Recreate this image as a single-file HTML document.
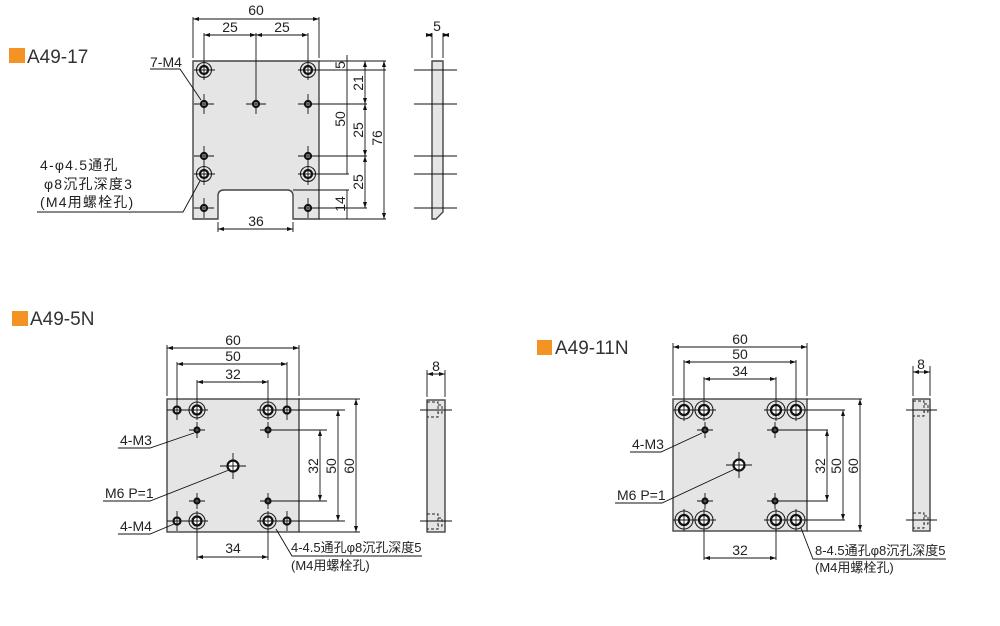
<!DOCTYPE html>
<html><head><meta charset="utf-8"><style>
html,body{margin:0;padding:0;background:#fff;}
svg{display:block;}
text{font-family:"Liberation Sans","Noto Sans CJK SC",sans-serif;fill:#222;}
.t{font-size:14px;}
.j{font-size:13px;font-family:"Liberation Sans","Noto Sans CJK SC",sans-serif;}
.jw{font-size:14px;letter-spacing:1.2px;font-family:"Liberation Sans","Noto Sans CJK SC",sans-serif;}
.ttl{font-size:19px;fill:#333;}
.plate{fill:#e5e5e5;stroke:#444;stroke-width:1.4;}
.l{stroke:#111;stroke-width:0.9;fill:none;}
.d{stroke:#111;stroke-width:0.9;fill:none;marker-start:url(#a);marker-end:url(#a);}
.c{stroke:#111;stroke-width:0.9;}
.h{fill:#fff;stroke:#111;stroke-width:2.2;}
.o{fill:none;stroke:#222;stroke-width:1.1;}
.ds{stroke:#222;stroke-width:0.9;fill:none;stroke-dasharray:3,2;}
</style></head><body>
<svg width="1000" height="626" viewBox="0 0 1000 626" xmlns="http://www.w3.org/2000/svg">
<defs>
<marker id="a" viewBox="0 0 6 4" refX="6" refY="2" markerWidth="6" markerHeight="4" orient="auto-start-reverse" markerUnits="userSpaceOnUse"><path d="M0,0 L6,2 L0,4z" fill="#111"/></marker>
</defs>

<!-- ===== A49-17 ===== -->
<rect x="9" y="48" width="16" height="15" fill="#f39324"/>
<text x="27" y="63" class="ttl">A49-17</text>
<path class="plate" d="M193,61 H319 V219 H293 V196 Q293,190 287,190 H224 Q218,190 218,196 V219 H193 Z"/>
<g>
<circle cx="204" cy="70" r="7.5" class="o"/><circle cx="204" cy="70" r="4" class="h"/>
<circle cx="308" cy="70" r="7.5" class="o"/><circle cx="308" cy="70" r="4" class="h"/>
<circle cx="204" cy="174" r="7.5" class="o"/><circle cx="204" cy="174" r="4" class="h"/>
<circle cx="308" cy="174" r="7.5" class="o"/><circle cx="308" cy="174" r="4" class="h"/>
<circle cx="204" cy="104" r="3" class="h"/><circle cx="256" cy="104" r="3" class="h"/><circle cx="308" cy="104" r="3" class="h"/>
<circle cx="204" cy="156" r="3" class="h"/><circle cx="308" cy="156" r="3" class="h"/>
<circle cx="204" cy="208" r="3" class="h"/><circle cx="308" cy="208" r="3" class="h"/>
</g>
<path class="c" d="M194,70H215 M298,70H386 M204,60V80 M308,60V80
M194,104H214 M246,104H266 M298,104H367 M204,94V114 M256,33V114 M308,94V114
M194,156H214 M298,156H367 M204,146V166 M308,146V166
M194,174H215 M298,174H349 M204,163V185 M308,163V185
M194,208H214 M298,208H367 M204,198V218 M308,198V218
M319,61H386 M319,219H386 M293,190H349"/>
<path class="l" d="M193,58V17 M319,58V17 M204,60V33 M308,60V33 M218,222V232 M293,222V232"/>
<path class="d" d="M193,19H319"/>
<path class="d" d="M204,35H256"/><path class="d" d="M256,35H308"/>
<path class="d" d="M218,229H293"/>
<text x="256" y="15" class="t" text-anchor="middle">60</text>
<text x="230" y="32" class="t" text-anchor="middle">25</text>
<text x="282" y="32" class="t" text-anchor="middle">25</text>
<text x="256" y="226" class="t" text-anchor="middle">36</text>
<path class="l" d="M347,55V174 M347,190V219"/>
<path class="d" d="M365,61V104"/><path class="d" d="M365,104V156"/><path class="d" d="M365,156V208"/>
<path class="d" d="M384,61V219"/>
<text transform="translate(345,65) rotate(-90)" class="t" text-anchor="middle">5</text>
<text transform="translate(345,119) rotate(-90)" class="t" text-anchor="middle">50</text>
<text transform="translate(345,204) rotate(-90)" class="t" text-anchor="middle">14</text>
<text transform="translate(363,83) rotate(-90)" class="t" text-anchor="middle">21</text>
<text transform="translate(363,130) rotate(-90)" class="t" text-anchor="middle">25</text>
<text transform="translate(363,182) rotate(-90)" class="t" text-anchor="middle">25</text>
<text transform="translate(382,138) rotate(-90)" class="t" text-anchor="middle">76</text>
<path class="plate" d="M432,61H443V212L436,219H432Z"/>
<path class="c" d="M414,70H457 M414,104H457 M414,156H457 M414,174H457 M414,208H457"/>
<path class="l" d="M432,58V33 M443,58V33"/>
<path class="d" d="M426,35H432"/><path class="d" d="M449,35H443"/>
<text x="437" y="31" class="t" text-anchor="middle">5</text>
<text x="150" y="67" class="t">7-M4</text>
<path class="l" d="M150,69H180L201,100"/>
<text x="40" y="170" class="jw">4-φ4.5通孔</text>
<text x="44" y="189" class="jw">φ8沉孔深度3</text>
<text x="40" y="207" class="jw">(M4用螺栓孔)</text>
<path class="l" d="M37,212H183L200,181"/>

<!-- ===== A49-5N ===== -->
<rect x="12" y="311" width="16" height="15" fill="#f39324"/>
<text x="30" y="325" class="ttl">A49-5N</text>
<rect x="167" y="399" width="132" height="133" class="plate"/>
<circle cx="197" cy="410" r="8" class="o"/><circle cx="197" cy="410" r="4.5" class="h"/>
<circle cx="268" cy="410" r="8" class="o"/><circle cx="268" cy="410" r="4.5" class="h"/>
<circle cx="197" cy="521" r="8" class="o"/><circle cx="197" cy="521" r="4.5" class="h"/>
<circle cx="268" cy="521" r="8" class="o"/><circle cx="268" cy="521" r="4.5" class="h"/>
<circle cx="177" cy="410" r="3.5" class="h"/><circle cx="287" cy="410" r="3.5" class="h"/>
<circle cx="177" cy="521" r="3.5" class="h"/><circle cx="287" cy="521" r="3.5" class="h"/>
<circle cx="197" cy="430" r="2.5" class="h"/><circle cx="268" cy="430" r="2.5" class="h"/>
<circle cx="197" cy="501" r="2.5" class="h"/><circle cx="268" cy="501" r="2.5" class="h"/>
<circle cx="233" cy="466" r="5.5" class="h"/>
<path class="c" d="M167,410H208 M257,410H345 M167,521H208 M257,521H345
M197,380V420 M268,380V420 M197,511V560 M268,511V560 M177,362V420 M287,362V420 M177,511V531 M287,511V531
M189,430H205 M260,430H327 M189,501H205 M260,501H327 M197,422V438 M268,422V438 M197,493V509 M268,493V509
M220,466H246 M233,453V479 M299,399H360 M299,532H360"/>
<path class="l" d="M167,396V345 M299,396V345"/>
<path class="d" d="M167,348H299"/><path class="d" d="M177,364H287"/><path class="d" d="M197,382H268"/>
<path class="d" d="M197,557H268"/>
<text x="233" y="345" class="t" text-anchor="middle">60</text>
<text x="233" y="361" class="t" text-anchor="middle">50</text>
<text x="233" y="379" class="t" text-anchor="middle">32</text>
<text x="233" y="553" class="t" text-anchor="middle">34</text>
<path class="d" d="M320,430V501"/><path class="d" d="M338,410V521"/><path class="d" d="M356,399V532"/>
<text transform="translate(318,466) rotate(-90)" class="t" text-anchor="middle">32</text>
<text transform="translate(336,466) rotate(-90)" class="t" text-anchor="middle">50</text>
<text transform="translate(354,466) rotate(-90)" class="t" text-anchor="middle">60</text>
<rect x="427" y="400" width="18" height="132" class="plate"/>
<path class="ds" d="M427,402H438V417H427 M438,405H442V413H438 M427,514H438V529H427 M438,518H442V526H438"/>
<path class="c" d="M420,410H452 M420,521H452"/>
<path class="l" d="M427,397V370 M445,397V370"/>
<path class="d" d="M427,374H445"/>
<text x="436" y="371" class="t" text-anchor="middle">8</text>
<text x="120" y="445" class="t">4-M3</text>
<path class="l" d="M118,448H150L194,433"/>
<text x="105" y="498" class="t">M6 P=1</text>
<path class="l" d="M103,501H150L229,470"/>
<text x="120" y="531" class="t">4-M4</text>
<path class="l" d="M118,534H150L174,524"/>
<text x="291" y="552" class="j">4-4.5通孔φ8沉孔深度5</text>
<text x="291" y="570" class="j">(M4用螺栓孔)</text>
<path class="l" d="M276,529L292,556H422"/>

<!-- ===== A49-11N ===== -->
<rect x="537" y="340" width="15" height="15" fill="#f39324"/>
<text x="555" y="354" class="ttl">A49-11N</text>
<rect x="673" y="399" width="134" height="132" class="plate"/>
<g>
<circle cx="684" cy="410" r="9" class="o"/><circle cx="704" cy="410" r="9" class="o"/>
<circle cx="776" cy="410" r="9" class="o"/><circle cx="796" cy="410" r="9" class="o"/>
<circle cx="684" cy="520" r="9" class="o"/><circle cx="704" cy="520" r="9" class="o"/>
<circle cx="776" cy="520" r="9" class="o"/><circle cx="796" cy="520" r="9" class="o"/>
<circle cx="684" cy="410" r="5" class="h"/><circle cx="704" cy="410" r="5" class="h"/>
<circle cx="776" cy="410" r="5" class="h"/><circle cx="796" cy="410" r="5" class="h"/>
<circle cx="684" cy="520" r="5" class="h"/><circle cx="704" cy="520" r="5" class="h"/>
<circle cx="776" cy="520" r="5" class="h"/><circle cx="796" cy="520" r="5" class="h"/>
</g>
<circle cx="705" cy="430" r="2.5" class="h"/><circle cx="775" cy="430" r="2.5" class="h"/>
<circle cx="705" cy="501" r="2.5" class="h"/><circle cx="775" cy="501" r="2.5" class="h"/>
<circle cx="739" cy="465" r="5.5" class="h"/>
<path class="c" d="M673,410H716 M764,410H845 M673,520H716 M764,520H845
M684,360V421 M704,377V421 M776,377V421 M796,360V421 M684,509V531 M704,509V560 M776,509V560 M796,509V531
M697,430H713 M767,430H828 M697,501H713 M767,501H828 M705,422V438 M775,422V438 M705,493V509 M775,493V509
M726,465H752 M739,452V478 M807,399H862 M807,531H862"/>
<path class="l" d="M673,396V343 M807,396V343"/>
<path class="d" d="M673,347H807"/><path class="d" d="M684,362H796"/><path class="d" d="M704,379H776"/>
<path class="d" d="M704,558H776"/>
<text x="740" y="344" class="t" text-anchor="middle">60</text>
<text x="740" y="359" class="t" text-anchor="middle">50</text>
<text x="740" y="376" class="t" text-anchor="middle">34</text>
<text x="740" y="555" class="t" text-anchor="middle">32</text>
<path class="d" d="M827,430V501"/><path class="d" d="M843,410V520"/><path class="d" d="M860,399V531"/>
<text transform="translate(825,466) rotate(-90)" class="t" text-anchor="middle">32</text>
<text transform="translate(841,466) rotate(-90)" class="t" text-anchor="middle">50</text>
<text transform="translate(858,466) rotate(-90)" class="t" text-anchor="middle">60</text>
<rect x="913" y="399" width="17" height="132" class="plate"/>
<path class="ds" d="M913,401H924V416H913 M924,404H928V412H924 M913,513H924V528H913 M924,516H928V524H924"/>
<path class="c" d="M906,410H937 M906,520H937"/>
<path class="l" d="M913,396V366 M930,396V366"/>
<path class="d" d="M913,372H930"/>
<text x="921" y="369" class="t" text-anchor="middle">8</text>
<text x="632" y="449" class="t">4-M3</text>
<path class="l" d="M630,452H661L702,433"/>
<text x="617" y="500" class="t">M6 P=1</text>
<path class="l" d="M615,503H662L735,469"/>
<text x="815" y="555" class="j">8-4.5通孔φ8沉孔深度5</text>
<text x="815" y="572" class="j">(M4用螺栓孔)</text>
<path class="l" d="M801,528L813,559H946"/>
</svg>
</body></html>
